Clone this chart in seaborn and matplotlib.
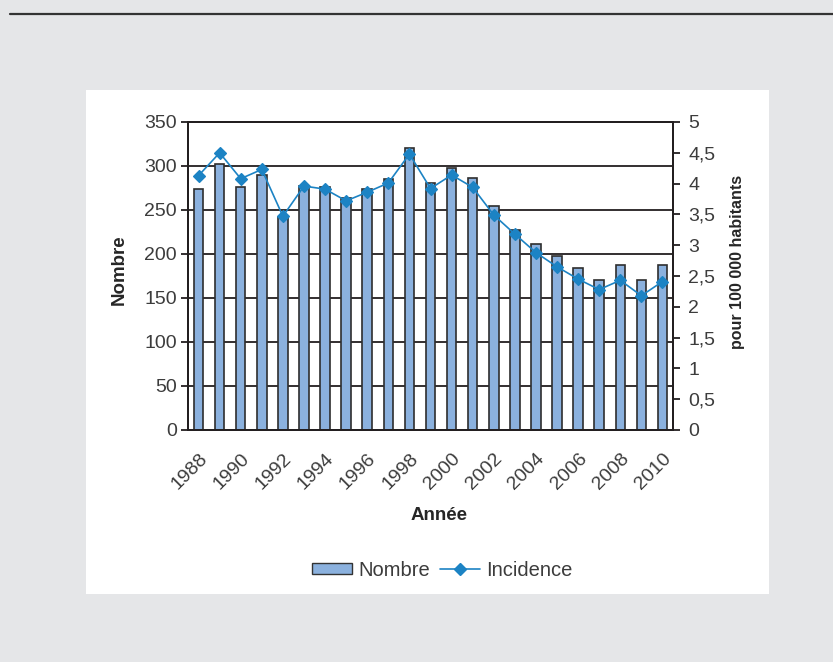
import numpy as np
import pandas as pd

import matplotlib
matplotlib.use('Agg')
import matplotlib.pyplot as plt
import matplotlib.transforms as mtransforms
from matplotlib.patches import Rectangle, Patch
from matplotlib.lines import Line2D
from matplotlib.ticker import FixedLocator, FuncFormatter
import seaborn as sns

# donnees
annees = list(range(1988, 2011))
nombre = [274, 302, 276, 290, 242, 277, 276, 264, 274, 285, 321, 281,
          298, 286, 255, 227, 211, 198, 184, 171, 187, 170, 187]
incidence = [4.13, 4.50, 4.08, 4.23, 3.47, 3.96, 3.91, 3.72, 3.86, 4.01, 4.48, 3.92,
             4.14, 3.94, 3.49, 3.18, 2.88, 2.65, 2.45, 2.28, 2.43, 2.18, 2.41]

data = pd.DataFrame({'annee': annees, 'nombre': nombre, 'incidence': incidence})

sns.set_style('white')
plt.rcParams['font.family'] = ['Liberation Sans', 'DejaVu Sans']

bleu_barre = '#8BB1DE'
bleu_ligne = '#1C83C4'
noir = '#231F20'
gris_texte = '#3C3C3C'

W, H = 833, 662
fig = plt.figure(figsize=(W / 100, H / 100), dpi=100, facecolor='#E5E6E8')

# cadre blanc + trait du haut
fig.patches.append(Rectangle((86 / W, 1 - 594 / H), (769 - 86) / W, (594 - 90) / H,
                             transform=fig.transFigure, facecolor='white', edgecolor='none', zorder=-5))
fig.add_artist(Line2D([10 / W, 1], [1 - 14 / H, 1 - 14 / H], transform=fig.transFigure,
                      color='#333333', lw=1.6))

ax = fig.add_axes([188 / W, 1 - 430 / H, (673 - 188) / W, (430 - 122) / H])
ax.set_facecolor('white')

sns.barplot(data=data, x='annee', y='nombre', ax=ax, color=bleu_barre, width=0.45,
            edgecolor='#2E2E2E', linewidth=1.2, saturation=1, zorder=3)

ax2 = ax.twinx()
sns.pointplot(data=data, x='annee', y='incidence', ax=ax2, color=bleu_ligne,
              markers='D', markersize=6.5, linewidth=1.2, errorbar=None, zorder=4)

n = len(annees)
ax.set_xlim(-0.5, n - 0.5)
ax.set_ylim(0, 350)
ax2.set_ylim(0, 5)

ax.yaxis.set_major_locator(FixedLocator(np.arange(0, 351, 50)))
ax2.yaxis.set_major_locator(FixedLocator(np.arange(0, 5.01, 0.5)))
ax2.yaxis.set_major_formatter(FuncFormatter(lambda v, p: ('%g' % v).replace('.', ',')))

ax.set_xticks(range(0, n, 2))
ax.set_xticklabels([str(a) for a in annees[::2]])
ax.set_xticks(np.arange(-0.5, n, 1.0), minor=True)
ax.tick_params(axis='x', which='major', length=0, pad=19, labelsize=14, labelcolor=gris_texte)
ax.tick_params(axis='x', which='minor', length=7, direction='inout', width=1.3, color=noir)
decalage = mtransforms.ScaledTranslation(6 / 100, 0, fig.dpi_scale_trans)
for lab in ax.get_xticklabels():
    lab.set_rotation(45)
    lab.set_ha('right')
    lab.set_va('center')
    lab.set_rotation_mode('anchor')
    lab.set_transform(lab.get_transform() + decalage)

ax.tick_params(axis='y', length=5, width=1.3, color=noir, labelsize=14, labelcolor=gris_texte, pad=3, left=True)
ax2.tick_params(axis='y', length=5, width=1.3, color=noir, labelsize=14, labelcolor=gris_texte, pad=6, right=True)

ax.grid(axis='y', color=noir, lw=1.3)
ax.set_axisbelow(True)
for a in (ax, ax2):
    for s in a.spines.values():
        s.set_visible(True)
        s.set_color(noir)
        s.set_linewidth(1.4)

ax.set_xlabel('Année', fontsize=13.5, fontweight='bold')
ax.set_ylabel('Nombre', fontsize=13.5, fontweight='bold')
ax2.set_ylabel('pour 100 000 habitants', fontsize=11.5, fontweight='bold', rotation=90)
ax.xaxis.set_label_coords((439 - 188) / 485, (430 - 507) / 308)
ax.yaxis.set_label_coords((128 - 188) / 485, (430 - 270) / 308)
ax2.yaxis.set_label_coords((730 - 188) / 485, (430 - 262) / 308)

poignees = [Patch(facecolor=bleu_barre, edgecolor='#333333', linewidth=1.0),
            Line2D([], [], color=bleu_ligne, lw=1.2, marker='D', markersize=6.5)]
fig.legend(poignees, ['Nombre', 'Incidence'], loc='center', bbox_to_anchor=(442 / W, 1 - 570 / H),
           ncol=2, frameon=False, fontsize=14.5, handlelength=2.0, handleheight=0.5,
           columnspacing=0.5, handletextpad=0.3, labelcolor=gris_texte)

fig.savefig('out.png', dpi=100, facecolor=fig.get_facecolor())
